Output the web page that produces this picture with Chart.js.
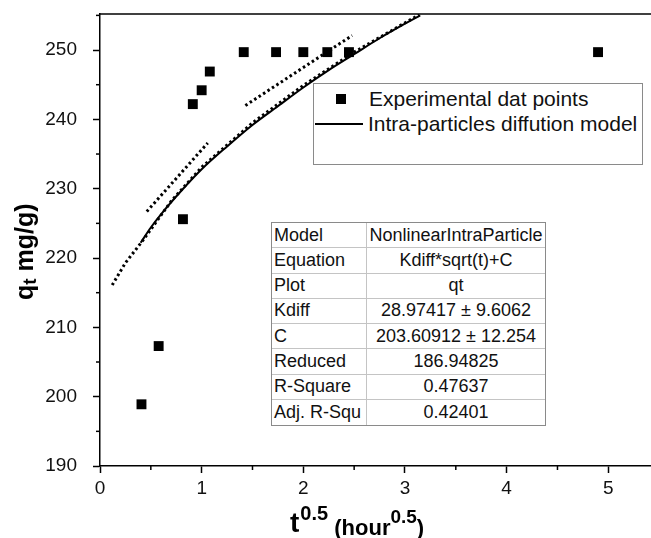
<!DOCTYPE html>
<html>
<head>
<meta charset="utf-8">
<script src="https://cdn.jsdelivr.net/npm/chart.js@4/dist/chart.umd.min.js"></script>
<style>
  html, body { margin: 0; padding: 0; background: #fff; }
  #wrap { position: relative; width: 651px; height: 538px; overflow: hidden; font-family: "Liberation Sans", Arial, sans-serif; }
  #c { position: absolute; left: 0; top: 0; }
  #legend { position: absolute; left: 313px; top: 83px; width: 330px; height: 82px; border: 1px solid #8a8a8a; background: #fff; box-sizing: border-box; }
  .lrow { position: absolute; left: 0; height: 26px; line-height: 26px; font-size: 21px; color: #111; white-space: nowrap; }
  .lsq { position: absolute; width: 10px; height: 10px; background: #000; }
  .lline { position: absolute; height: 2px; background: #000; }
  #table { position: absolute; left: 271px; top: 222px; width: 275px; height: 204px; border: 1px solid #8a8a8a; box-sizing: border-box; display: grid; grid-template-columns: 95px 1fr; grid-template-rows: repeat(8, 1fr); background: #fff; }
  #table div { font-size: 18px; color: #111; display: flex; align-items: center; white-space: nowrap; border-bottom: 1px solid #c4c4c4; box-sizing: border-box; overflow: hidden; }
  #table div.k { padding-left: 2px; border-right: 1px solid #c4c4c4; }
  #table div.v { justify-content: center; }
  #table div.last { border-bottom: none; }
</style>
</head>
<body>
<div id="wrap">
  <canvas id="c" width="651" height="538"></canvas>
  <div id="legend"></div>
  <div id="table"></div>
</div>
<script>
// ---- Data ----
// Experimental data points (x = t^0.5, y = qt)
const expX = [0.408, 0.577, 0.816, 0.913, 1.0, 1.08, 1.414, 1.732, 2.0, 2.236, 2.449, 4.899];
const expY = [198.9, 207.3, 225.6, 242.2, 244.2, 246.9, 249.7, 249.7, 249.7, 249.7, 249.7, 249.7];

// Intra-particle diffusion model curve (solid)
const fitX = [0.40, 0.50, 0.60, 0.80, 1.00, 1.25, 1.50, 1.75, 2.00, 2.25, 2.50, 2.75, 3.00, 3.15];
const fitY = [222.2, 224.4, 226.3, 229.7, 232.8, 236.1, 239.2, 241.9, 244.6, 247.1, 249.4, 251.7, 253.8, 255.0];

// Dotted lines
const dotAX = [0.12, 0.25, 0.42, 0.70, 1.00, 1.50, 2.00, 2.50, 3.14];
const dotAY = [216.1, 219.3, 222.5, 228.2, 233.1, 239.5, 244.9, 249.7, 255.1];
const dotBX = [0.46, 1.06];
const dotBY = [226.7, 236.6];
const dotCX = [1.43, 2.48];
const dotCY = [242.0, 252.1];

// Axis settings
const xMin = 0, xMax = 5.42, xMajor = 1, xMinor = 0.5;
const yMin = 190, yMax = 255.2, yMajor = 10, yMinor = 5;

// Legend and fit table texts
const legendLabels = ["Experimental dat points", "Intra-particles diffution model"];
const tableLabels = ["Model", "Equation", "Plot", "Kdiff", "C", "Reduced", "R-Square", "Adj. R-Squ"];
const tableValues = ["NonlinearIntraParticle", "Kdiff*sqrt(t)+C", "qt", "28.97417 ± 9.6062", "203.60912 ± 12.254", "186.94825", "0.47637", "0.42401"];

// ---- Build ----
const FONT = '"Liberation Sans", Arial, sans-serif';
const pts = (xs, ys) => xs.map((x, i) => ({ x: x, y: ys[i] }));

const dotted = (xs, ys) => ({
  data: pts(xs, ys), showLine: true, borderColor: '#000', borderWidth: 3,
  borderDash: [2.5, 2.8], pointRadius: 0, fill: false
});

const minorTicks = {
  id: 'minorTicks',
  afterDraw(chart) {
    const ctx = chart.ctx, xs = chart.scales.x, ys = chart.scales.y, a = chart.chartArea;
    ctx.save();
    ctx.strokeStyle = '#000'; ctx.lineWidth = 1.5;
    // top frame line
    ctx.beginPath(); ctx.moveTo(a.left - 0.75, a.top); ctx.lineTo(chart.width, a.top); ctx.stroke();
    for (let v = xMin + xMinor; v < xMax; v += xMajor) {
      const p = xs.getPixelForValue(v);
      ctx.beginPath(); ctx.moveTo(p, a.bottom); ctx.lineTo(p, a.bottom + 4); ctx.stroke();
    }
    for (let v = yMin + yMinor; v < yMax; v += yMajor) {
      const p = ys.getPixelForValue(v);
      ctx.beginPath(); ctx.moveTo(a.left, p); ctx.lineTo(a.left - 4, p); ctx.stroke();
    }
    // axis titles
    ctx.fillStyle = '#000';
    ctx.textBaseline = 'alphabetic';
    // y title: q_t mg/g)
    ctx.save();
    ctx.translate(33, 300);
    ctx.rotate(-Math.PI / 2);
    let x = 0;
    ctx.font = 'bold 25px ' + FONT; ctx.fillText('q', x, 0); x += ctx.measureText('q').width;
    ctx.font = 'bold 19px ' + FONT; ctx.fillText('t', x, 3); x += ctx.measureText('t').width;
    ctx.font = 'bold 25px ' + FONT; ctx.fillText(' mg/g)', x, 0);
    ctx.restore();
    // x title: t^0.5 (hour^0.5)
    x = 290; const base = 532;
    ctx.font = 'bold 28px ' + FONT; ctx.fillText('t', x, base); x += ctx.measureText('t').width + 1;
    ctx.font = 'bold 20px ' + FONT; ctx.fillText('0.5', x, base - 12); x += ctx.measureText('0.5').width;
    ctx.font = 'bold 22px ' + FONT; ctx.fillText(' (hour', x, base + 3); x += ctx.measureText(' (hour').width;
    ctx.font = 'bold 19px ' + FONT; ctx.fillText('0.5', x, base - 9); x += ctx.measureText('0.5').width;
    ctx.font = 'bold 22px ' + FONT; ctx.fillText(')', x, base + 3);
    ctx.restore();
  }
};

new Chart(document.getElementById('c'), {
  type: 'scatter',
  data: {
    datasets: [
      dotted(dotAX, dotAY),
      dotted(dotBX, dotBY),
      dotted(dotCX, dotCY),
      { data: pts(fitX, fitY), showLine: true, borderColor: '#000', borderWidth: 2, pointRadius: 0, cubicInterpolationMode: 'monotone', fill: false },
      { data: pts(expX, expY), showLine: false, pointStyle: 'rect', pointRadius: 7, backgroundColor: '#000', borderColor: '#000', borderWidth: 0 }
    ]
  },
  options: {
    responsive: false, animation: false,
    layout: { autoPadding: false, padding: { top: 14, left: 0, right: 0, bottom: 0 } },
    plugins: { legend: { display: false }, tooltip: { enabled: false } },
    scales: {
      x: {
        type: 'linear', min: xMin, max: xMax,
        afterFit: s => { s.height = 72; s.paddingRight = 0; },
        afterBuildTicks: s => { s.ticks = s.ticks.filter(t => Math.abs(t.value / xMajor - Math.round(t.value / xMajor)) < 1e-6); },
        ticks: { stepSize: xMajor, includeBounds: false, autoSkip: false, color: '#111', font: { family: FONT, size: 19 }, padding: 4, maxRotation: 0 },
        grid: { drawOnChartArea: false, drawTicks: true, tickLength: 7, tickWidth: 1.5, tickColor: '#000' },
        border: { color: '#000', width: 1.5 }
      },
      y: {
        type: 'linear', min: yMin, max: yMax,
        afterFit: s => { s.width = 100; s.paddingTop = 0; },
        afterBuildTicks: s => { s.ticks = s.ticks.filter(t => Math.abs(t.value / yMajor - Math.round(t.value / yMajor)) < 1e-6); },
        ticks: { stepSize: yMajor, includeBounds: false, autoSkip: false, color: '#111', font: { family: FONT, size: 19 }, padding: 16 },
        grid: { drawOnChartArea: false, drawTicks: true, tickLength: 7, tickWidth: 1.5, tickColor: '#000' },
        border: { color: '#000', width: 1.5 }
      }
    }
  },
  plugins: [minorTicks]
});

// Legend (HTML)
const lg = document.getElementById('legend');
lg.innerHTML =
  '<span class="lsq" style="left:22px;top:10px"></span>' +
  '<div class="lrow" style="left:55px;top:2px">' + legendLabels[0] + '</div>' +
  '<span class="lline" style="left:1px;top:39px;width:48px"></span>' +
  '<div class="lrow" style="left:54px;top:27px">' + legendLabels[1] + '</div>';

// Table (HTML)
const tb = document.getElementById('table');
tableLabels.forEach((k, i) => {
  const last = i === tableLabels.length - 1 ? ' last' : '';
  const a = document.createElement('div'); a.className = 'k' + last; a.textContent = k;
  const b = document.createElement('div'); b.className = 'v' + last; b.textContent = tableValues[i];
  tb.appendChild(a); tb.appendChild(b);
});
</script>
</body>
</html>
